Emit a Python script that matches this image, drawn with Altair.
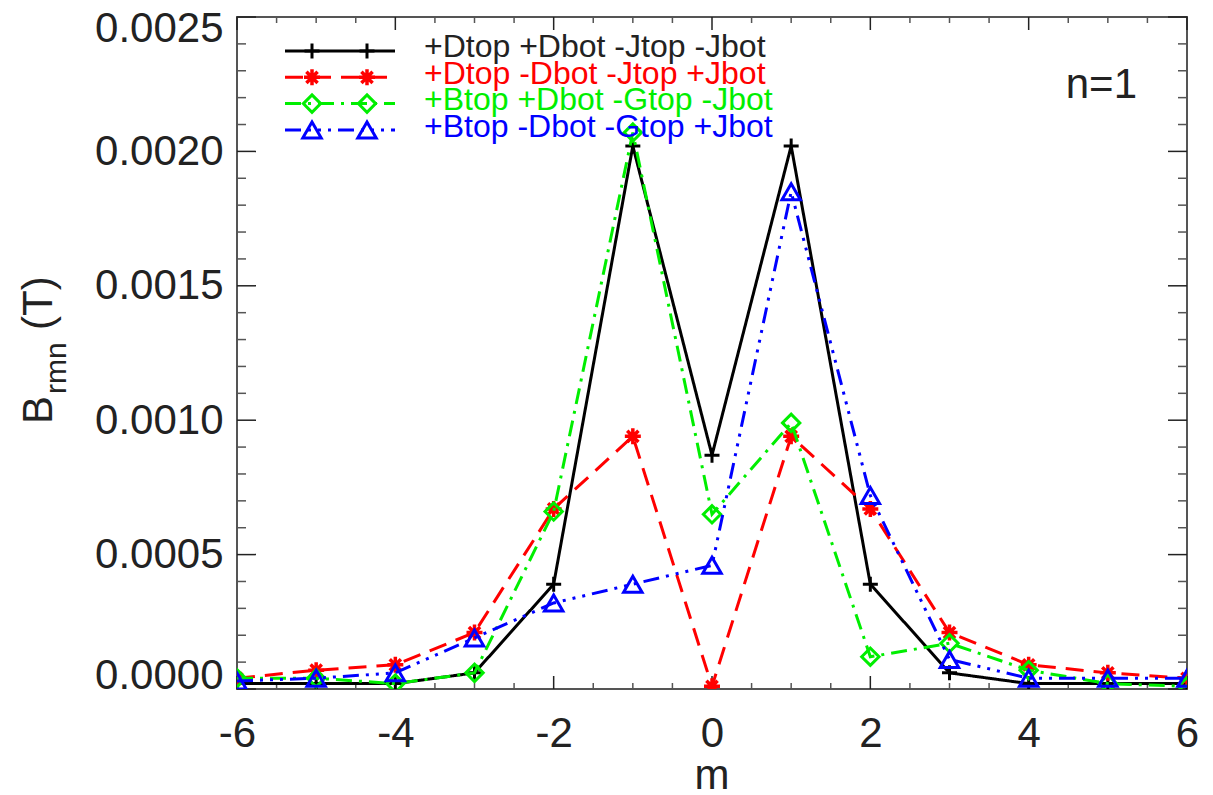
import altair as alt
import pandas as pd

# ---------------- data ----------------
m_vals = [-6, -5, -4, -3, -2, -1, 0, 1, 2, 3, 4, 5, 6]
black_vals = [0.00002, 0.00002, 0.00002, 0.00006, 0.00039, 0.00202, 0.00087, 0.00202, 0.00039, 0.00006, 0.00002, 0.00002, 0.00002]
red_vals = [0.00004, 0.00007, 0.00009, 0.00021, 0.00067, 0.00094, 0.00001, 0.00094, 0.00067, 0.00021, 0.00009, 0.00006, 0.00004]
green_vals = [0.00004, 0.00004, 0.00002, 0.00006, 0.00066, 0.00207, 0.00065, 0.00099, 0.00012, 0.00017, 0.00007, 0.00002, 0.00001]
blue_vals = [0.00003, 0.00004, 0.00006, 0.00019, 0.00032, 0.00039, 0.00046, 0.00185, 0.00072, 0.00011, 0.00004, 0.00004, 0.00004]

labels = ["+Dtop +Dbot -Jtop -Jbot", "+Dtop -Dbot -Jtop +Jbot",
          "+Btop +Dbot -Gtop -Jbot", "+Btop -Dbot -Gtop +Jbot"]

x_major = [-6, -4, -2, 0, 2, 4, 6]
x_minor = [v / 2 for v in range(-11, 12) if v % 4 != 0]
y_major = [0.0, 0.0005, 0.0010, 0.0015, 0.0020, 0.0025]
y_minor = [v / 10000 for v in range(1, 25) if v % 5 != 0]

# ---------------- styles ----------------
W, H = 950, 672
FONT = "Liberation Sans"
PLUS = "M-1,0H1M0,-1V1"
STAR = "M-1,0H1M0,-1V1M-0.7,-0.7L0.7,0.7M-0.7,0.7L0.7,-0.7"
styles = [
    dict(color="#000000", dash=[1, 0], shape=PLUS, size=225, sw=3),
    dict(color="#ff0000", dash=[18, 10], shape=STAR, size=256, sw=3.5),
    dict(color="#00ee00", dash=[16, 7, 3, 7], shape="diamond", size=300, sw=3),
    dict(color="#0000ff", dash=[16, 7, 3, 7, 3, 7, 3, 7], shape="triangle-up", size=340, sw=3),
]
series = [black_vals, red_vals, green_vals, blue_vals]

xs = alt.Scale(domain=[-6, 6], nice=False, zero=False)
ys = alt.Scale(domain=[0, 0.0025], nice=False, zero=False)

layers = []

# ticks (inward, mirrored)
def tick_layers(vals, axis, length, color):
    df = pd.DataFrame({"v": vals})
    out = []
    if axis == "x":
        out.append(alt.Chart(df).mark_rule(color=color, strokeWidth=1.5).encode(
            x=alt.X("v:Q", scale=xs), y=alt.value(H), y2=alt.value(H - length)))
        out.append(alt.Chart(df).mark_rule(color=color, strokeWidth=1.5).encode(
            x=alt.X("v:Q", scale=xs), y=alt.value(0), y2=alt.value(length)))
    else:
        out.append(alt.Chart(df).mark_rule(color=color, strokeWidth=1.5).encode(
            y=alt.Y("v:Q", scale=ys), x=alt.value(0), x2=alt.value(length)))
        out.append(alt.Chart(df).mark_rule(color=color, strokeWidth=1.5).encode(
            y=alt.Y("v:Q", scale=ys), x=alt.value(W), x2=alt.value(W - length)))
    return out

layers += tick_layers(x_major, "x", 13, "#222222")
layers += tick_layers(x_minor, "x", 6, "#555555")
layers += tick_layers(y_major, "y", 19, "#222222")
layers += tick_layers(y_minor, "y", 9, "#555555")

# axes carrier (labels only)
axis_df = pd.DataFrame({"m": m_vals, "b": black_vals})
axes = alt.Chart(axis_df).mark_point(opacity=0).encode(
    x=alt.X("m:Q", scale=xs, title=None,
            axis=alt.Axis(values=x_major, ticks=False, tickSize=0, domain=False, grid=False,
                          labelExpr="'' + datum.value",
                          labelFont=FONT, labelFontSize=42, labelColor="#222222",
                          labelPadding=24, labelFlush=False, labelOverlap=False)),
    y=alt.Y("b:Q", scale=ys, title=None,
            axis=alt.Axis(values=y_major, format=".4f", ticks=False, tickSize=0, domain=False,
                          grid=False, labelFont=FONT, labelFontSize=42, labelColor="#222222",
                          labelPadding=14,
                          labelOffset=alt.ExprRef("datum.value < 0.0001 ? -14 : datum.value > 0.0024 ? 11 : 0"))),
)
layers.append(axes)

# data series
for vals, st in zip(series, styles):
    df = pd.DataFrame({"m": m_vals, "b": vals})
    layers.append(alt.Chart(df).mark_line(
        color=st["color"], strokeWidth=3, strokeDash=st["dash"], strokeCap="butt", clip=True
    ).encode(x=alt.X("m:Q", scale=xs), y=alt.Y("b:Q", scale=ys)))
    layers.append(alt.Chart(df).mark_point(
        shape=st["shape"], size=st["size"], color=st["color"], filled=False,
        strokeWidth=st["sw"], opacity=1, clip=True
    ).encode(x=alt.X("m:Q", scale=xs), y=alt.Y("b:Q", scale=ys)))

# legend
for i, (lab, st) in enumerate(zip(labels, styles)):
    yl = 34 + 26.3 * i
    one = pd.DataFrame({"label": [lab]})
    layers.append(alt.Chart(one).mark_rule(
        color=st["color"], strokeWidth=3, strokeDash=st["dash"], strokeCap="butt"
    ).encode(x=alt.value(48), x2=alt.value(158), y=alt.value(yl)))
    for xp in (75, 130):
        layers.append(alt.Chart(one).mark_point(
            shape=st["shape"], size=st["size"], color=st["color"], filled=False,
            strokeWidth=st["sw"], opacity=1
        ).encode(x=alt.value(xp), y=alt.value(yl)))
    layers.append(alt.Chart(one).mark_text(
        align="left", baseline="alphabetic", font=FONT, fontSize=32,
        color=("#222222" if i == 0 else st["color"])
    ).encode(x=alt.value(187), y=alt.value(40 + 26.5 * i), text="label:N"))

# annotations
def txt(s, x, y, size, align="left", angle=0):
    kw = dict(align=align, baseline="alphabetic", font=FONT, fontSize=size, color="#222222")
    if angle:
        kw["angle"] = angle
    return alt.Chart(pd.DataFrame({"t": [s]})).mark_text(**kw).encode(
        x=alt.value(x), y=alt.value(y), text="t:N")

layers.append(txt("n=1", 900, 81, 42, align="right"))
layers.append(txt("m", 475, 772, 42, align="center"))
layers.append(txt("B", -185, 407, 42, angle=270))
layers.append(txt("rmn", -171, 377, 30, angle=270))
layers.append(txt("(T)", -185, 313, 42, angle=270))

chart = alt.layer(*layers).properties(
    width=W, height=H,
    autosize=alt.AutoSizeParams(type="none"),
    padding={"left": 237, "top": 17, "right": 26, "bottom": 106},
    background="white",
).configure_view(stroke="#555555", strokeWidth=2)

chart.save("out.html", embed_options={"renderer": "svg", "actions": False})
